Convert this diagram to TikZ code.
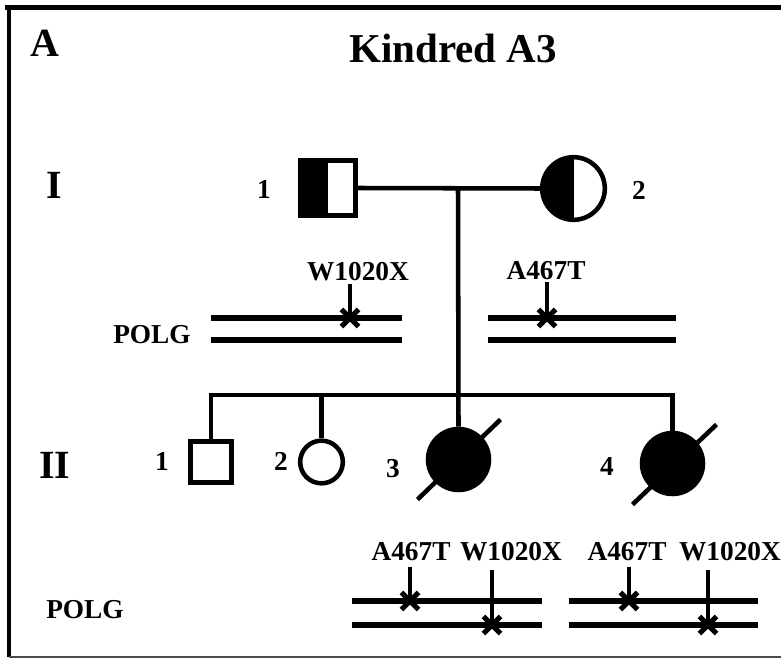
\documentclass[tikz,border=0pt]{standalone}
\usepackage{fontspec}
\setmainfont{Liberation Serif}
\usetikzlibrary{shapes.misc,calc}
\begin{document}
\begin{tikzpicture}[x=0.75pt,y=-0.75pt,
  ped/.style={line width=3.4pt},
  chrom/.style={line width=3.9pt},
  tickline/.style={line width=3.6pt},
  male/.style={draw, rectangle, line width=3.4pt, inner sep=0pt, minimum size=#1},
  female/.style={draw, circle, line width=3.4pt, inner sep=0pt, minimum size=#1},
  halffill/.style={path picture={\fill[black] (path picture bounding box.south west) rectangle (path picture bounding box.north);}},
  affected/.style={fill=black},
  mut/.style={draw, cross out, line width=3.8pt, inner sep=0pt, minimum size=9pt},
  lbl/.style={font=\bfseries\fontsize{20.5}{24}\selectfont, inner sep=0pt, anchor=base},
  big/.style={font=\bfseries\fontsize{30}{36}\selectfont, inner sep=0pt, anchor=base},
  ttl/.style={font=\bfseries\fontsize{30.75}{36}\selectfont, inner sep=0pt, anchor=base}
]
\useasboundingbox (0,0) rectangle (781,659);
% frame
\draw[line width=3.75pt] (5,7.5) -- (781,7.5);
\draw[line width=3pt] (8.5,5) -- (8.5,657);
\draw[line width=1.2pt, black!70] (8.5,657) -- (781,657);

% titles
\node[big] (A) at (45,57) {A};
\node[ttl] (T) at (453,63) {Kindred A3};
\node[big] (GI) at (54.5,199) {I};
\node[big] (GII) at (55,478) {II};

% generation I
\node[male=41.5pt, halffill] (I1) at (328,188) {};
\node[female=47pt, halffill] (I2) at (573.5,188.5) {};
\node[lbl] (nI1) at (264,199) {1};
\node[lbl] (nI2) at (639,200) {2};
\coordinate (mid) at (458,188.5);

% generation II
\node[male=30.5pt] (II1) at (211,462) {};
\node[female=32pt] (II2) at (321.5,462) {};
\node[female=45.75pt, affected] (II3) at (458.5,459.5) {};
\node[female=45.75pt, affected] (II4) at (672.5,463.5) {};
\node[lbl] (nII1) at (162,470) {1};
\node[lbl] (nII2) at (281,470) {2};
\node[lbl] (nII3) at (393,477) {3};
\node[lbl] (nII4) at (607,475) {4};
\coordinate (sibL) at (211,395);
\coordinate (sibR) at (672.5,395);

% connectors
\draw[ped] (I1.east) -- (I2.west);
\draw[ped] (mid) -- (II3.north);
\draw[ped] (II1.north) -- (sibL) -- (sibR) -- (II4.north);
\draw[ped] (II2.north) -- (II2.north |- sibL);
% deceased marks
\draw[ped] ($(II3)+(-41,40)$) -- ($(II3)+(42,-40)$);
\draw[ped] ($(II4)+(-40,41)$) -- ($(II4)+(44,-39)$);

% POLG, generation I
\node[lbl] (polg1) at (152,343) {POLG};
\coordinate (c1a) at (211,318); \coordinate (c1b) at (402,318);
\coordinate (c1c) at (211,340); \coordinate (c1d) at (402,340);
\coordinate (c2a) at (488,318); \coordinate (c2b) at (676,318);
\coordinate (c2c) at (488,340); \coordinate (c2d) at (676,340);
\draw[chrom] (c1a) -- (c1b);
\draw[chrom] (c1c) -- (c1d);
\draw[chrom] (c2a) -- (c2b);
\draw[chrom] (c2c) -- (c2d);
\node[mut] (m1) at (350,318) {};
\node[mut] (m2) at (547,318) {};
\node[lbl] (l1) at (358,280) {W1020X};
\node[lbl] (l2) at (546,279) {A467T};
\coordinate (t1) at (350,284);
\coordinate (t2) at (547,282);
\draw[tickline] (t1) -- (m1.center);
\draw[tickline] (t2) -- (m2.center);

% POLG, generation II
\node[lbl] (polg2) at (85,618) {POLG};
\coordinate (c3a) at (352,601); \coordinate (c3b) at (542,601);
\coordinate (c3c) at (352,625); \coordinate (c3d) at (542,625);
\coordinate (c4a) at (569,601); \coordinate (c4b) at (758,601);
\coordinate (c4c) at (569,625); \coordinate (c4d) at (758,625);
\draw[chrom] (c3a) -- (c3b);
\draw[chrom] (c3c) -- (c3d);
\draw[chrom] (c4a) -- (c4b);
\draw[chrom] (c4c) -- (c4d);
\node[mut] (m3) at (410,601) {};
\node[mut] (m4) at (492,625) {};
\node[mut] (m5) at (629,601) {};
\node[mut] (m6) at (708,625) {};
\node[lbl] (l3) at (411,560) {A467T};
\node[lbl] (l4) at (511,560) {W1020X};
\node[lbl] (l5) at (627,560) {A467T};
\node[lbl] (l6) at (730,560) {W1020X};
\coordinate (t3) at (410,567);
\coordinate (t4) at (492,570);
\coordinate (t5) at (629,567);
\coordinate (t6) at (708,570);
\draw[tickline] (t3) -- (m3.center);
\draw[tickline] (t4) -- (m4.center);
\draw[tickline] (t5) -- (m5.center);
\draw[tickline] (t6) -- (m6.center);
\end{tikzpicture}
\end{document}
